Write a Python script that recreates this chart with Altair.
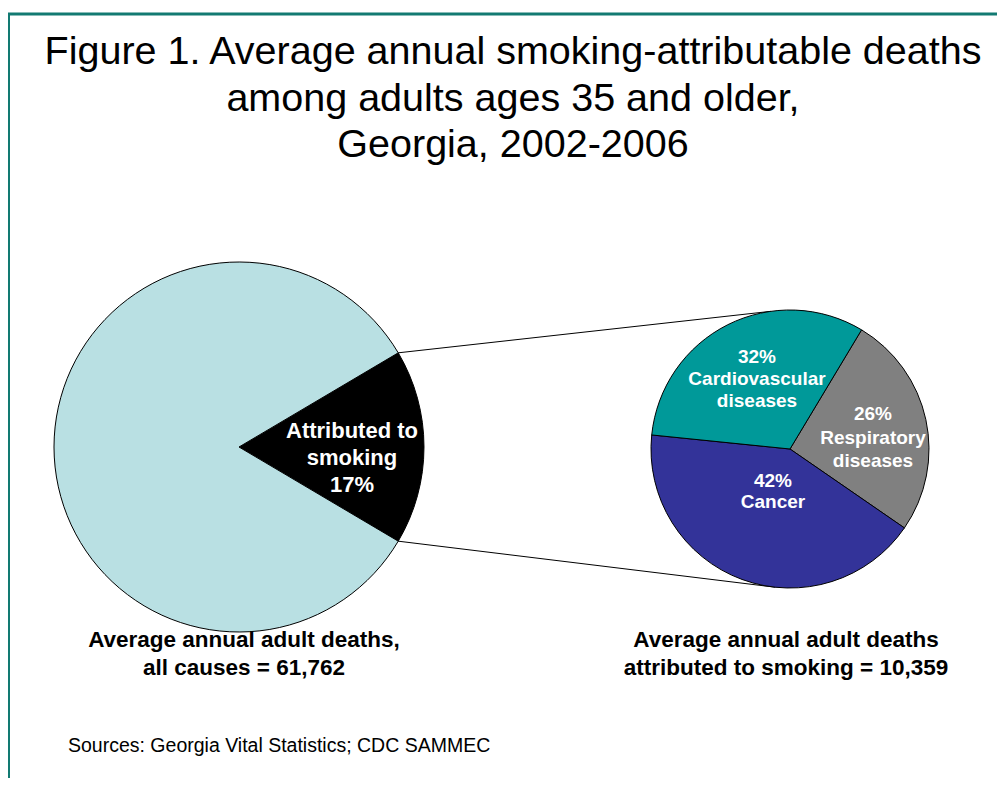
import math
import altair as alt
import pandas as pd

# ---------------- data ----------------
all_cause_deaths = 61762
smoking_deaths = 10359

left_categories = ["Attributed to smoking", "Other causes"]
left_pct = [17, 83]

right_categories = ["Respiratory diseases", "Cancer", "Cardiovascular diseases"]
right_pct = [26, 42, 32]

title_lines = [
    "Figure 1. Average annual smoking-attributable deaths",
    "among adults ages 35 and older,",
    "Georgia, 2002-2006",
]
source_text = "Sources: Georgia Vital Statistics; CDC SAMMEC"

# ---------------- layout / style ----------------
W, H = 989, 770
FONT = "Liberation Sans"
TEAL_BORDER = "#127A72"

L_CX, L_CY, L_R = 231, 439, 185
R_CX, R_CY, R_R = 782, 441, 139

left_colors = ["#000000", "#B9E0E3"]
right_colors = ["#808080", "#333399", "#009999"]

# angle where the first slice starts (radians, clockwise from 12 o'clock)
L_START = math.radians(90 - left_pct[0] * 3.6 / 2)
R_START = math.radians(31)

df_left = pd.DataFrame({"cat": left_categories, "lp": left_pct, "idx": range(len(left_pct))})
df_right = pd.DataFrame({"rcat": right_categories, "rp": right_pct, "ridx": range(len(right_pct))})

left_pie = alt.Chart(df_left).mark_arc(
    outerRadius=L_R, stroke="black", strokeWidth=1
).encode(
    theta=alt.Theta("lp:Q", stack=True,
                    scale=alt.Scale(range=[L_START, L_START + 2 * math.pi])),
    color=alt.Color("cat:N", scale=alt.Scale(domain=left_categories, range=left_colors), legend=None),
    order=alt.Order("idx:Q"),
    x=alt.value(L_CX), y=alt.value(L_CY),
)

right_pie = alt.Chart(df_right).mark_arc(
    outerRadius=R_R, stroke="black", strokeWidth=1
).encode(
    theta=alt.Theta("rp:Q", stack=True,
                    scale=alt.Scale(range=[R_START, R_START + 2 * math.pi])),
    color=alt.Color("rcat:N", scale=alt.Scale(domain=right_categories, range=right_colors), legend=None),
    order=alt.Order("ridx:Q"),
    x=alt.value(R_CX), y=alt.value(R_CY),
)

# connector lines from the smoking slice edges to the right pie
a_top = L_START
a_bot = L_START + math.radians(left_pct[0] * 3.6)
def pt(cx, cy, r, a):
    return cx + r * math.sin(a), cy - r * math.cos(a)
lt = pt(L_CX, L_CY, L_R, a_top)
lb = pt(L_CX, L_CY, L_R, a_bot)
rt = pt(R_CX, R_CY, R_R, math.radians(-8))
rb = pt(R_CX, R_CY, R_R, math.radians(186))

one = pd.DataFrame({"a": [0]})
def rule(p, q, color="black", w=1):
    return alt.Chart(one).mark_rule(color=color, strokeWidth=w).encode(
        x=alt.value(p[0]), y=alt.value(p[1]), x2=alt.value(q[0]), y2=alt.value(q[1]))

connectors = rule(lt, rt) + rule(lb, rb)

border = rule((-2, 6), (W + 2, 6), TEAL_BORDER, 3) + rule((0.5, 6), (0.5, H + 2), TEAL_BORDER, 3)

def text_layer(txt, x, y, size, bold=False, color="black", lh=None, align="center"):
    # y is the centre of the first line
    return alt.Chart(pd.DataFrame({"t": [txt]})).mark_text(
        font=FONT, fontSize=size, fontWeight="bold" if bold else "normal",
        color=color, align=align, baseline="middle", lineBreak="\n",
        lineHeight=lh if lh else size * 1.2,
    ).encode(text="t:N", x=alt.value(x), y=alt.value(y))

title = text_layer("\n".join(title_lines), 505, 44, 39.5, lh=46.5)

left_label = text_layer("Attributed to\nsmoking\n" + f"{left_pct[0]}%", 344, 423, 22, True, "white", 27)

cv_label = text_layer(f"{right_pct[2]}%\nCardiovascular\ndiseases", 749, 349, 19, True, "white", 22)
resp_label = text_layer(f"{right_pct[0]}%\nRespiratory\ndiseases", 865, 406, 19, True, "white", 23.5)
cancer_label = text_layer(f"{right_pct[1]}%\nCancer", 765, 473, 19, True, "white", 21)

cap_left = text_layer(f"Average annual adult deaths,\nall causes = {all_cause_deaths:,}", 236, 632, 22.5, True, "black", 28)
cap_right = text_layer(f"Average annual adult deaths\nattributed to smoking = {smoking_deaths:,}", 778, 632, 22.5, True, "black", 28)

sources = text_layer(source_text, 60, 738, 19.5, False, "black", align="left")

chart = alt.layer(
    border, connectors, left_pie, right_pie, title, left_label,
    cv_label, resp_label, cancer_label, cap_left, cap_right, sources
).resolve_scale(
    theta="independent", color="independent"
).properties(
    width=W, height=H, padding=0, autosize=alt.AutoSizeParams(type="none"),
    background="white",
).configure_view(stroke=None)

chart.save("out.html", embed_options={"renderer": "svg", "actions": False})
